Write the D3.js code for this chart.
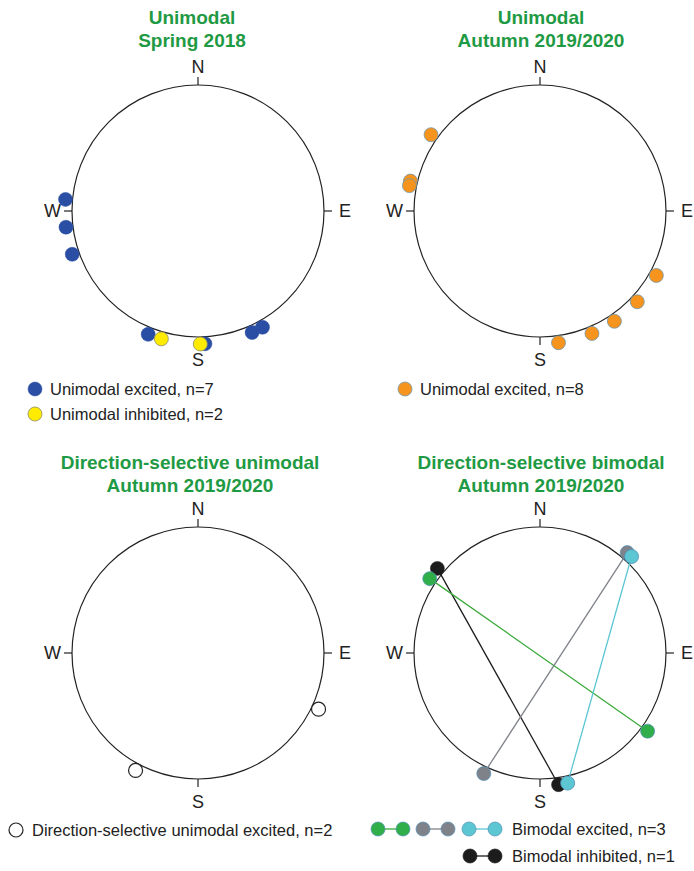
<!DOCTYPE html>
<html>
<head>
<meta charset="utf-8">
<script src="https://cdn.jsdelivr.net/npm/d3@7"></script>
<style>
  html, body { margin: 0; padding: 0; background: #fff; }
  svg { display: block; font-family: "Liberation Sans", Arial, Helvetica, sans-serif; }
</style>
</head>
<body>
<svg id="chart" width="694" height="871"></svg>
<script>
// Preferred compass bearings (degrees, clockwise from north)
const springExcited = [275, 263, 251, 202, 177, 156, 151];
const springInhibited = [196, 179];
const autumnExcited = [305, 283, 281, 119, 133, 146, 157, 172];
const dsUnimodalExcited = [115, 208];
// Bimodal cells: each pair holds the two preferred bearings of one cell
const bimodalExcitedGreen = [304, 126];
const bimodalExcitedGrey = [41, 205];
const bimodalExcitedCyan = [43.5, 168];
const bimodalInhibited = [309.5, 172];

const compassLabels = ["N", "E", "S", "W"];
const compassBearings = [0, 90, 180, 270];

const titles = [
  ["Unimodal", "Spring 2018"],
  ["Unimodal", "Autumn 2019/2020"],
  ["Direction-selective unimodal", "Autumn 2019/2020"],
  ["Direction-selective bimodal", "Autumn 2019/2020"]
];

const legendTexts = [
  ["Unimodal excited, n=7", "Unimodal inhibited, n=2"],
  ["Unimodal excited, n=8"],
  ["Direction-selective unimodal excited, n=2"],
  ["Bimodal excited, n=3", "Bimodal inhibited, n=1"]
];

const svg = d3.select("#chart");

const R = 126;         // compass circle radius
const dotR = 7;        // marker radius
const dotDist = 133;   // radial distance of markers from centre
const green = "#1f9a44";

const angle = d3.scaleLinear().domain([0, 360]).range([0, 2 * Math.PI]);
const pos = (b, r) => d3.pointRadial(angle(b), r);

const panels = [
  { cx: 198, cy: 211, tx: 192, ty: 17 },
  { cx: 540, cy: 211, tx: 541, ty: 17 },
  { cx: 198, cy: 653, tx: 190, ty: 462 },
  { cx: 540, cy: 653, tx: 541, ty: 462 }
];

panels.forEach((p, i) => {
  const g = svg.append("g").attr("transform", `translate(${p.cx},${p.cy})`);
  p.g = g;

  // title
  const t = svg.append("text")
    .attr("x", p.tx).attr("y", p.ty)
    .attr("text-anchor", "middle")
    .attr("dominant-baseline", "central")
    .attr("fill", green)
    .attr("font-weight", "bold")
    .attr("font-size", 19);
  titles[i].forEach((line, k) => {
    t.append("tspan").attr("x", p.tx).attr("dy", k === 0 ? 0 : 23).text(line);
  });

  // circle
  g.append("circle").attr("r", R).attr("fill", "none")
    .attr("stroke", "#222").attr("stroke-width", 1.2);

  // compass ticks and labels
  compassBearings.forEach((b, k) => {
    const [x1, y1] = pos(b, R);
    const [x2, y2] = pos(b, R + 8);
    g.append("line").attr("x1", x1).attr("y1", y1).attr("x2", x2).attr("y2", y2)
      .attr("stroke", "#222").attr("stroke-width", 1.2);
    const off = { N: 144, E: 141, S: 149, W: 137 }[compassLabels[k]];
    const [lx, ly] = pos(b, off);
    g.append("text").attr("x", lx).attr("y", ly)
      .attr("text-anchor", b === 90 ? "start" : b === 270 ? "end" : "middle")
      .attr("dominant-baseline", "central")
      .attr("font-size", 18).attr("fill", "#222")
      .text(compassLabels[k]);
  });
});

function dots(g, data, fill, stroke, sw) {
  g.selectAll(null).data(data).enter().append("circle")
    .attr("cx", d => pos(d, dotDist)[0])
    .attr("cy", d => pos(d, dotDist)[1])
    .attr("r", dotR)
    .attr("fill", fill)
    .attr("stroke", stroke)
    .attr("stroke-width", sw);
}

function pairLine(g, pair, color) {
  const [a, b] = pair.map(d => pos(d, dotDist));
  g.append("line").attr("x1", a[0]).attr("y1", a[1]).attr("x2", b[0]).attr("y2", b[1])
    .attr("stroke", color).attr("stroke-width", 1.3);
}

const blue = "#2a4ea3", yellow = "#ffeb00", orange = "#f7941d";
const cGreen = "#2fae4a", cGrey = "#7f8289", cCyan = "#5cc6d3", cBlack = "#1c1c1c";
const outline = "#4f8fb4";

// Panel 1
dots(panels[0].g, springExcited, blue, blue, 0.5);
dots(panels[0].g, springInhibited, yellow, "#8a8a6a", 0.8);
// Panel 2
dots(panels[1].g, autumnExcited, orange, "#6f97ad", 0.8);
// Panel 3
dots(panels[2].g, dsUnimodalExcited, "#fff", "#222", 1.2);
// Panel 4
const g4 = panels[3].g;
pairLine(g4, bimodalInhibited, cBlack);
pairLine(g4, bimodalExcitedGreen, "#3aaa3a");
pairLine(g4, bimodalExcitedGrey, cGrey);
pairLine(g4, bimodalExcitedCyan, cCyan);
dots(g4, bimodalInhibited, cBlack, cBlack, 0.5);
dots(g4, bimodalExcitedGreen, cGreen, outline, 0.7);
dots(g4, bimodalExcitedGrey, cGrey, outline, 0.7);
dots(g4, bimodalExcitedCyan, cCyan, outline, 0.8);

// Legends
function legendText(x, y, s) {
  svg.append("text").attr("x", x).attr("y", y)
    .attr("dominant-baseline", "central")
    .attr("font-size", 16.5).attr("fill", "#222").text(s);
}
function legendDot(x, y, fill, stroke, sw) {
  svg.append("circle").attr("cx", x).attr("cy", y).attr("r", dotR)
    .attr("fill", fill).attr("stroke", stroke).attr("stroke-width", sw);
}
function legendPair(x1, x2, y, fill, stroke, line) {
  svg.append("line").attr("x1", x1).attr("x2", x2).attr("y1", y).attr("y2", y)
    .attr("stroke", line).attr("stroke-width", 1.3);
  legendDot(x1, y, fill, stroke, 0.7);
  legendDot(x2, y, fill, stroke, 0.7);
}

legendDot(35, 389, blue, blue, 0.5);
legendText(50, 389, legendTexts[0][0]);
legendDot(35, 414, yellow, "#8a8a6a", 0.8);
legendText(50, 414, legendTexts[0][1]);

legendDot(405, 389, orange, "#6f97ad", 0.8);
legendText(420, 389, legendTexts[1][0]);

legendDot(16, 830, "#fff", "#222", 1.2);
legendText(32, 830, legendTexts[2][0]);

legendPair(378, 403, 829, cGreen, outline, "#3aaa3a");
legendPair(423, 448, 829, cGrey, outline, cGrey);
legendPair(469, 495, 829, cCyan, outline, cCyan);
legendText(512, 829, legendTexts[3][0]);
legendPair(470, 495, 856, cBlack, cBlack, cBlack);
legendText(512, 856, legendTexts[3][1]);
</script>
</body>
</html>
